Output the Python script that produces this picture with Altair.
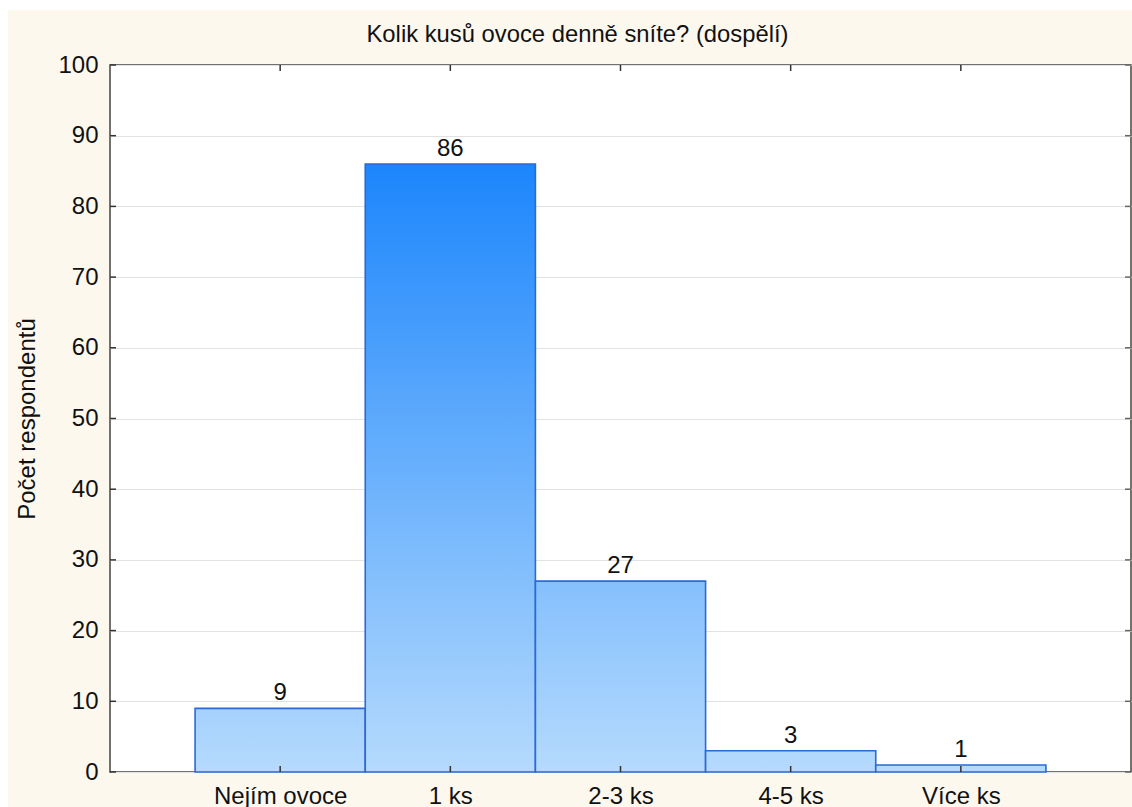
import json
import altair as alt
import pandas as pd

# Survey answers: how many pieces of fruit adults eat per day
categories = ["Nejím ovoce", "1 ks", "2-3 ks", "4-5 ks", "Více ks"]
counts = [9, 86, 27, 3, 1]
y_ticks = [0, 10, 20, 30, 40, 50, 60, 70, 80, 90, 100]
title_text = "Kolik kusů ovoce denně sníte? (dospělí)"

W, H = 1021, 707
FONT = "Liberation Sans"
TEXT = "#111111"

# colour ramp of the bar fill: value 0 -> light, value 86 -> saturated
LOW = (181, 218, 253)
HIGH = (28, 134, 252)
V_MAX = max(counts)


def ramp(v):
    t = v / V_MAX
    return "#%02x%02x%02x" % tuple(round(a + (b - a) * t) for a, b in zip(LOW, HIGH))


df = pd.DataFrame({
    "cat": categories,
    "count": counts,
    "pos": list(range(1, len(categories) + 1)),
})
df["lo"] = df["pos"] - 0.5
df["hi"] = df["pos"] + 0.5

x_scale = alt.Scale(domain=[0, len(categories) + 1], nice=False, zero=False)
y_scale = alt.Scale(domain=[0, 100], nice=False)

label_expr = json.dumps(categories) + "[datum.value - 1]"

base = alt.Chart(df)
one = alt.Data(values=[{"k": 1}])

# white page margin strips around the cream chart background
margin_left = alt.Chart(one).mark_rect(color="white").encode(
    x=alt.value(-110), x2=alt.value(-102), y=alt.value(-65), y2=alt.value(H + 40)
)
margin_top = alt.Chart(one).mark_rect(color="white").encode(
    x=alt.value(-110), x2=alt.value(W + 5), y=alt.value(-65), y2=alt.value(-55)
)

# chart heading, centred over the whole cream panel
heading = alt.Chart(one).mark_text(
    text=title_text, font=FONT, fontSize=23.8, color=TEXT,
    align="center", baseline="alphabetic",
).encode(x=alt.value(W / 2 - 43), y=alt.value(-23))

# one bar layer per category so each bar gets its own slice of the vertical ramp
bar_layers = []
for c, v in zip(categories, counts):
    grad = alt.LinearGradient(
        gradient="linear",
        x1=0, x2=0, y1=0, y2=1,
        stops=[alt.GradientStop(color=ramp(v), offset=0),
               alt.GradientStop(color=ramp(0), offset=1)],
    )
    layer = base.transform_filter(alt.datum.cat == c).mark_rect(
        color=grad, stroke="#2a6ad8", strokeWidth=1.6
    ).encode(
        x=alt.X("lo:Q", scale=x_scale,
                axis=alt.Axis(values=list(range(1, len(categories) + 1)),
                              labelExpr=label_expr, title=None, grid=False,
                              ticks=False, domain=False, labelFont=FONT,
                              labelFontSize=24, labelColor=TEXT, labelPadding=12)),
        x2="hi:Q",
        y=alt.Y("count:Q", scale=y_scale,
                axis=alt.Axis(values=y_ticks, title="Počet respondentů",
                              titleFont=FONT, titleFontSize=24,
                              titleFontWeight="normal", titleColor=TEXT,
                              titleX=-83, titleY=H / 2, titleBaseline="middle",
                              titleAlign="center", titleAngle=-90,
                              grid=True, gridColor="#e2e2e2", gridWidth=1.2,
                              ticks=False, domain=False, labelFont=FONT,
                              labelFontSize=24, labelColor=TEXT,
                              labelPadding=12)),
        y2=alt.datum(0),
    )
    bar_layers.append(layer)

labels = base.mark_text(font=FONT, fontSize=24, color=TEXT, baseline="bottom", dy=-3).encode(
    x=alt.X("pos:Q", scale=x_scale),
    y=alt.Y("count:Q", scale=y_scale),
    text="count:Q",
)

# inward ticks along the frame
tick_color = "#333333"
bottom_ticks = base.mark_rule(color=tick_color, strokeWidth=1.5).encode(
    x=alt.X("pos:Q", scale=x_scale), y=alt.value(H), y2=alt.value(H - 6)
)
top_ticks = base.mark_rule(color=tick_color, strokeWidth=1.5).encode(
    x=alt.X("pos:Q", scale=x_scale), y=alt.value(0), y2=alt.value(6)
)
ydf = pd.DataFrame({"v": y_ticks})
left_ticks = alt.Chart(ydf).mark_rule(color=tick_color, strokeWidth=1.5).encode(
    y=alt.Y("v:Q", scale=y_scale), x=alt.value(0), x2=alt.value(6)
)
right_ticks = alt.Chart(ydf).mark_rule(color="#666666", strokeWidth=1.5).encode(
    y=alt.Y("v:Q", scale=y_scale), x=alt.value(W - 6), x2=alt.value(W)
)

chart = alt.layer(
    margin_left, margin_top, heading, *bar_layers, labels,
    bottom_ticks, top_ticks, left_ticks, right_ticks,
).properties(
    width=W,
    height=H,
    background="#fdf8ee",
    padding={"left": 110, "top": 65, "right": 1, "bottom": 35},
    autosize=alt.AutoSizeParams(type="none"),
).configure_view(
    fill="white", stroke="#444444", strokeWidth=1.5
)

chart.save("out.html", embed_options={"renderer": "svg", "actions": False})
